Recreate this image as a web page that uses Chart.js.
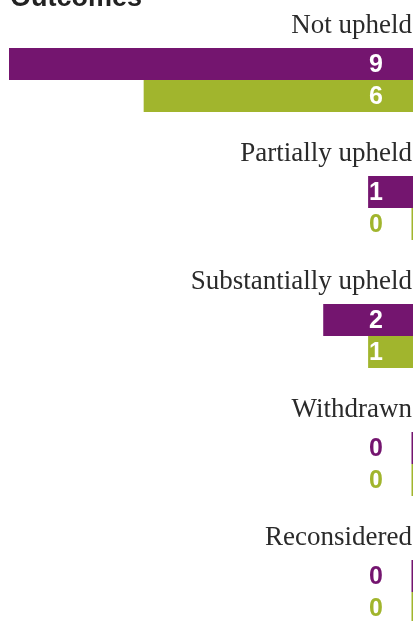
<!DOCTYPE html>
<html>
<head>
<meta charset="utf-8">
<script src="https://cdn.jsdelivr.net/npm/chart.js@4"></script>
<style>
  html, body { margin: 0; padding: 0; background: #fff; overflow: hidden; }
  #wrap { position: relative; width: 415px; height: 621px; overflow: hidden; }
  canvas { position: absolute; left: 0; top: 0; }
</style>
</head>
<body>
<div id="wrap">
  <canvas id="outcomesChart" width="415" height="660"></canvas>
</div>
<script>
// Outcome categories and counts for each period
const categories = [
  "Not upheld",
  "Partially upheld",
  "Substantially upheld",
  "Withdrawn",
  "Reconsidered",
];
const currentYear = [9, 1, 2, 0, 0];
const previousYear = [6, 0, 1, 0, 0];
const axisMax = 9;

const purple = "#74156f";
const green = "#a1b52d";

// Title, category headings and value labels
const labelPlugin = {
  id: "outcomeLabels",
  afterDatasetsDraw(chart) {
    const { ctx, chartArea, scales } = chart;
    const x0 = scales.x.getPixelForValue(0);

    ctx.save();
    ctx.fillStyle = "#222";
    ctx.font = "bold 27px 'Liberation Sans', Arial, sans-serif";
    ctx.textAlign = "left";
    ctx.textBaseline = "alphabetic";
    ctx.fillText("Outcomes", 10, 6);

    ctx.font = "27px 'Liberation Serif', 'Times New Roman', serif";
    ctx.fillStyle = "#2a2a2a";
    ctx.textAlign = "right";
    categories.forEach((cat, i) => {
      const yc = scales.y.getPixelForValue(i);
      ctx.fillText(cat, chartArea.right - 1, yc - 32 - 15);
    });

    ctx.font = "bold 25px 'Liberation Sans', Arial, sans-serif";
    ctx.textBaseline = "middle";
    chart.data.datasets.forEach((ds, di) => {
      const meta = chart.getDatasetMeta(di);
      meta.data.forEach((bar, i) => {
        const text = String(ds.data[i]);
        const right = x0 - 30;
        const mid = right - ctx.measureText(text).width / 2;
        ctx.fillStyle = bar.x <= mid ? "#fff" : ds.backgroundColor;
        ctx.fillText(text, right, bar.y + 1);
      });
    });
    ctx.restore();
  },
};

const ctx = document.getElementById("outcomesChart").getContext("2d");
const outcomesChart = new Chart(ctx, {
  type: "bar",
  data: {
    labels: categories,
    datasets: [
      {
        label: "Current year",
        data: currentYear,
        backgroundColor: purple,
      },
      {
        label: "Previous year",
        data: previousYear,
        backgroundColor: green,
      },
    ],
  },
  options: {
    indexAxis: "y",
    responsive: false,
    animation: false,
    devicePixelRatio: 1,
    layout: { padding: { top: 16, left: 9, right: 2, bottom: 4 } },
    datasets: {
      bar: {
        categoryPercentage: 0.5,
        barPercentage: 1,
        borderWidth: 0,
        minBarLength: 3,
      },
    },
    scales: {
      x: { display: false, reverse: true, min: 0, max: axisMax },
      y: { display: false },
    },
    plugins: {
      legend: { display: false },
      tooltip: { enabled: false },
    },
  },
  plugins: [labelPlugin],
});
</script>
</body>
</html>
